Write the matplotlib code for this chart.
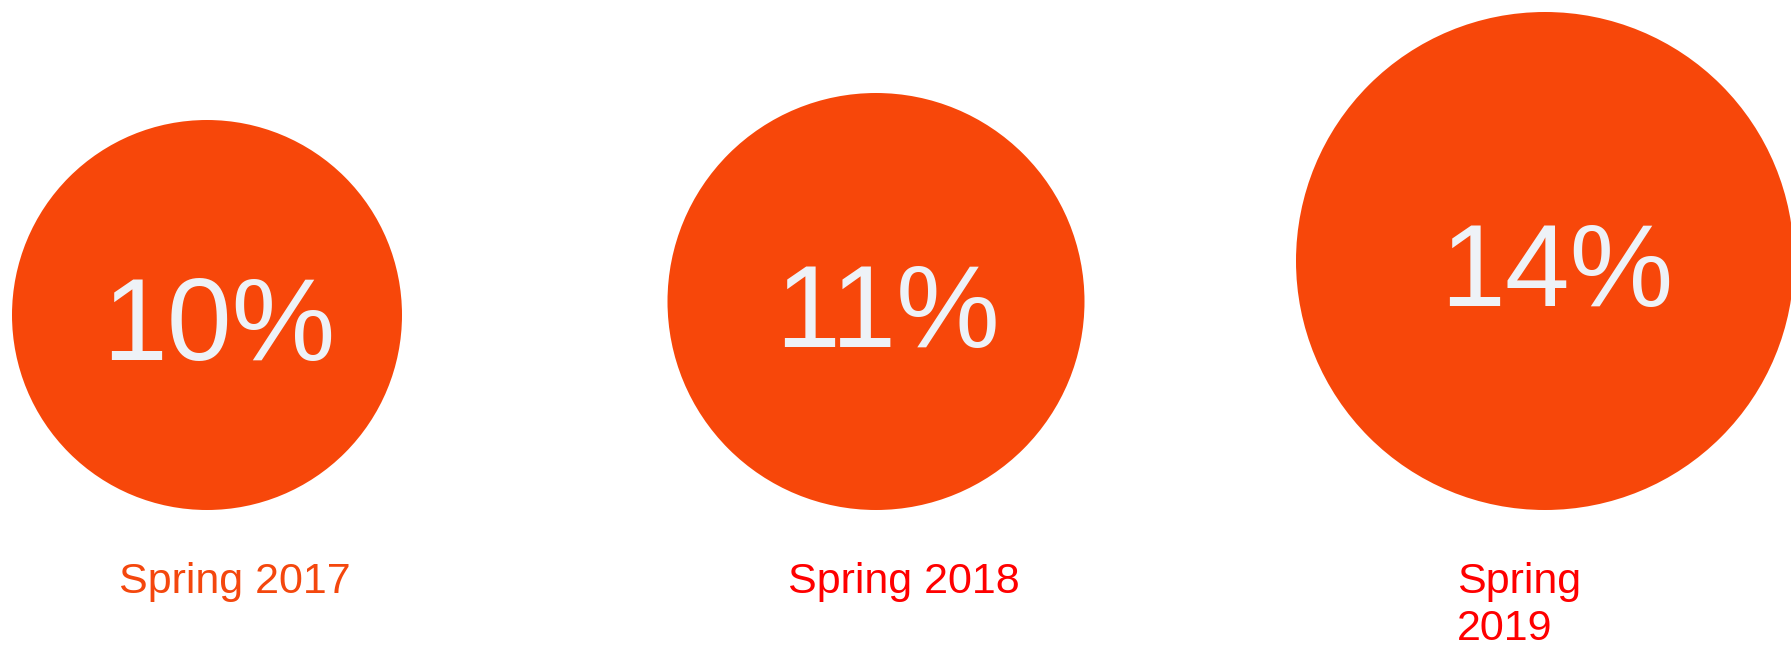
import matplotlib
matplotlib.use("Agg")
import matplotlib.pyplot as plt
from matplotlib.patches import Circle

# data
seasons = ["Spring 2017", "Spring 2018", "Spring 2019"]
shares = [10, 11, 14]
label_colors = ["#F4470D", "#FF0000", "#FF0000"]

circle_color = "#F7470A"
text_color = "#EEF2F7"

plt.rcParams["font.family"] = ["Liberation Sans", "DejaVu Sans"]

W, H, DPI = 1791, 650, 100
fig = plt.figure(figsize=(W / DPI, H / DPI), dpi=DPI)
ax = fig.add_axes([0, 0, 1, 1])

# one x unit = gap between circles (~669 px), y=0 is the common bottom line
px = 1 / 669.0
ax.set_xlim(-207 * px, 2 + (W - 1545) * px)
ax.set_ylim(-(H - 510) * px, 510 * px)
ax.set_aspect("equal")
ax.axis("off")


def radius(v):
    # bubble radius in px grows with the share
    return (60 + 13.5 * v) * px


wrap_after = 1  # labels past this index sit near the edge and get wrapped
line_gap = 47 * px
for i, (name, v, c) in enumerate(zip(seasons, shares, label_colors)):
    r = radius(v)
    ax.add_patch(Circle((i, r), r, facecolor=circle_color, edgecolor="none"))
    ax.text(i + 12 * px, r - 45 * px, f"{v}%", color=text_color,
            fontsize=84, ha="center", va="baseline")
    lines = name.split(" ") if i > wrap_after else [name]
    for k, line in enumerate(lines):
        ax.text(i - 88 * px, -83 * px - k * line_gap, line, color=c,
                fontsize=31, ha="left", va="baseline")

fig.savefig("out.png", dpi=DPI)
